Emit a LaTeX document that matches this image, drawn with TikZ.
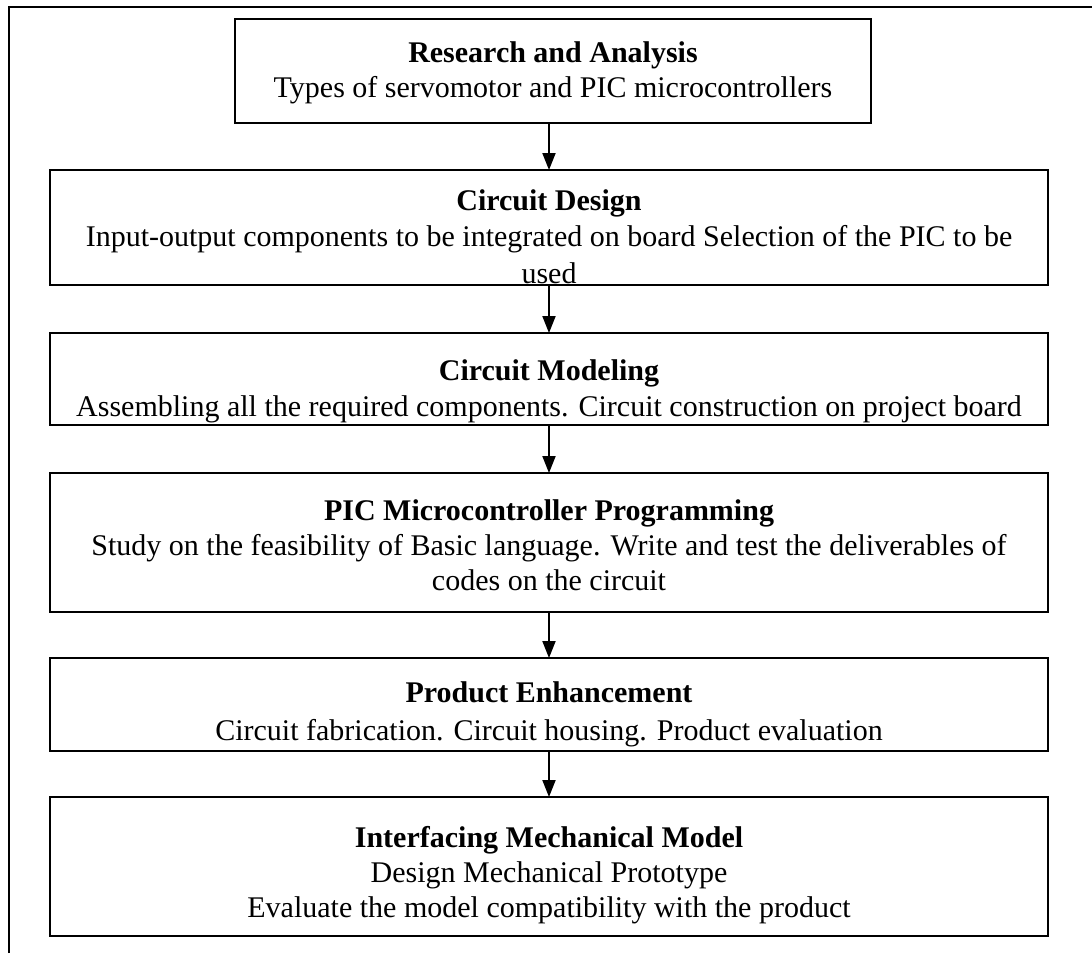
\documentclass[tikz,border=0pt]{standalone}
\usepackage{fontspec}
\setmainfont{Liberation Serif}
\usetikzlibrary{arrows.meta}
\tikzset{
  box/.style={draw, line width=2pt, inner sep=0pt, outer sep=0pt, rectangle},
  txt/.style={anchor=base, inner sep=0pt, font=\fontsize{30}{35}\selectfont},
  ttl/.style={txt, font=\fontsize{30}{35}\selectfont\bfseries},
  flow/.style={line width=2pt, -{Triangle[length=17pt,width=13pt]}},
  frame/.style={line width=2.5pt}
}
\begin{document}
\begin{tikzpicture}[x=1pt,y=-1pt]
\useasboundingbox (0,0) rectangle (1092,953);
% outer frame
\coordinate (fa) at (9,953);
\coordinate (fb) at (9,7);
\coordinate (fc) at (1092,7);
\draw[frame] (fa) -- (fb) -- (fc);
% boxes
\node[box, minimum width=636pt, minimum height=104pt] (b1) at (553,71) {};
\node[box, minimum width=998pt, minimum height=115pt] (b2) at (549,227.5) {};
\node[box, minimum width=998pt, minimum height=92pt] (b3) at (549,379) {};
\node[box, minimum width=998pt, minimum height=139pt] (b4) at (549,542.5) {};
\node[box, minimum width=998pt, minimum height=93pt] (b5) at (549,704.5) {};
\node[box, minimum width=998pt, minimum height=139pt] (b6) at (549,866.5) {};
% texts
\node[ttl] (t1a) at (553,62) {Research and Analysis};
\node[txt] (t1b) at (553,97) {Types of servomotor and PIC microcontrollers};
\node[ttl] (t2a) at (549,210) {Circuit Design};
\node[txt] (t2b) at (549,246) {Input-output components to be integrated on board Selection of the PIC to be};
\node[txt] (t2c) at (549,283) {used};
\node[ttl] (t3a) at (549,380) {Circuit Modeling};
\node[txt] (t3b) at (549,416) {Assembling all the required components. Circuit construction on project board};
\node[ttl] (t4a) at (549,520) {PIC Microcontroller Programming};
\node[txt] (t4b) at (549,555) {Study on the feasibility of Basic language. Write and test the deliverables of};
\node[txt] (t4c) at (549,590) {codes on the circuit};
\node[ttl] (t5a) at (549,702) {Product Enhancement};
\node[txt] (t5b) at (549,740) {Circuit fabrication. Circuit housing. Product evaluation};
\node[ttl] (t6a) at (549,847) {Interfacing Mechanical Model};
\node[txt] (t6b) at (549,882) {Design Mechanical Prototype};
\node[txt] (t6c) at (549,917) {Evaluate the model compatibility with the product};
% redraw box borders over clipped text
\foreach \b in {b2,b3,b5} {\draw[line width=2pt] (\b.south west) -- (\b.south east);}
% arrows
\draw[flow] (b2.north |- b1.south) -- (b2.north);
\draw[flow] (b2.south) -- (b3.north);
\draw[flow] (b3.south) -- (b4.north);
\draw[flow] (b4.south) -- (b5.north);
\draw[flow] (b5.south) -- (b6.north);
\end{tikzpicture}
\end{document}
